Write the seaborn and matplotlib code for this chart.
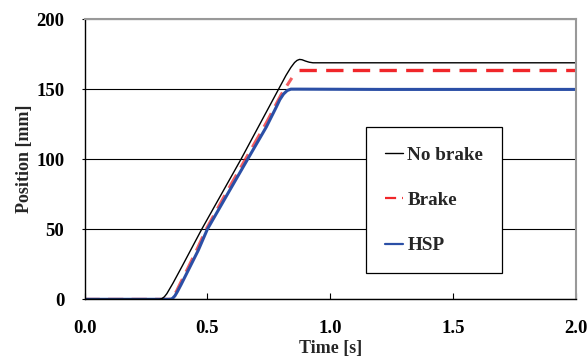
import numpy as np
import pandas as pd
import matplotlib
matplotlib.use("Agg")
import matplotlib.pyplot as plt
import seaborn as sns

# ---- data ----
nb_time = [0.0, 0.305, 0.315, 0.325, 0.335, 0.345, 0.36, 0.40, 0.477, 0.637, 0.79,
           0.82, 0.84, 0.855, 0.865, 0.875, 0.885, 0.90, 0.915, 0.93, 1.2, 1.5, 2.0]
nb_pos = [0.0, 0.0, 0.5, 1.8, 4.0, 7.0, 11.5, 24.5, 50.0, 100.0, 150.0,
          159.8, 165.5, 169.0, 170.5, 171.2, 171.0, 170.0, 169.2, 168.8, 168.8, 168.8, 168.8]

br_time_rise = [0.0, 0.345, 0.355, 0.365, 0.375, 0.39, 0.42, 0.46, 0.495, 0.58, 0.655,
                0.74, 0.80, 0.844]
br_pos_rise = [0.0, 0.0, 0.8, 3.0, 6.0, 11.5, 22.0, 36.5, 50.0, 77.0, 100.0,
               126.0, 146.0, 158.0]
br_time_hold = [0.875, 1.2, 1.5, 2.0]
br_pos_hold = [164.0, 164.0, 164.0, 164.0]

hsp_time = [0.0, 0.348, 0.358, 0.368, 0.378, 0.393, 0.423, 0.463, 0.50, 0.585, 0.664,
            0.74, 0.78, 0.795, 0.81, 0.825, 0.84, 0.87, 1.2, 1.5, 2.0]
hsp_pos = [0.0, 0.0, 0.6, 2.5, 5.5, 10.5, 21.0, 35.0, 50.0, 76.0, 100.0,
           123.0, 137.0, 142.5, 146.5, 149.0, 150.0, 150.0, 149.8, 149.8, 149.8]

labels = ["No brake", "Brake", "HSP"]
x_ticks = [0.0, 0.5, 1.0, 1.5, 2.0]
y_ticks = [0, 50, 100, 150, 200]

df_nb = pd.DataFrame({"Time": nb_time, "Position": nb_pos})
df_br1 = pd.DataFrame({"Time": br_time_rise, "Position": br_pos_rise})
df_br2 = pd.DataFrame({"Time": br_time_hold, "Position": br_pos_hold})
df_hsp = pd.DataFrame({"Time": hsp_time, "Position": hsp_pos})

sns.set_style("white")
plt.rcParams["font.family"] = ["Liberation Serif", "DejaVu Serif"]
plt.rcParams["font.weight"] = "bold"

fig = plt.figure(figsize=(5.87, 3.6), dpi=100)
ax = fig.add_axes([0.144, 0.1686, 0.837, 0.7784])

red = "#f0262a"
blue = "#2b4fa6"

sns.lineplot(data=df_br1, x="Time", y="Position", ax=ax, color=red, lw=2.2,
             label=labels[1], alpha=0.75, sort=False)
ax.lines[-1].set_dashes((5, 2.7))
sns.lineplot(data=df_br2, x="Time", y="Position", ax=ax, color=red, lw=2.4,
             label="_nolegend_", sort=False)
ax.lines[-1].set_dashes((5.2, 2.8))
sns.lineplot(data=df_hsp, x="Time", y="Position", ax=ax, color=blue, lw=2.2,
             label=labels[2], sort=False)
sns.lineplot(data=df_nb, x="Time", y="Position", ax=ax, color="black", lw=1.0,
             label=labels[0], sort=False)

ax.set_xlim(0, 2.0)
ax.set_ylim(0, 200)
ax.set_xticks(x_ticks)
ax.set_xticklabels([f"{v:.1f}" for v in x_ticks], fontweight="bold", fontsize=13.5)
ax.set_yticks(y_ticks)
ax.set_yticklabels([str(v) for v in y_ticks], fontweight="bold", fontsize=13.5)
ax.tick_params(axis="x", direction="in", length=4.5, width=0.8, pad=15,
               colors="black", bottom=True)
ax.tick_params(axis="y", direction="out", length=2.5, width=0.8, pad=12,
               colors="black", left=True)

ax.yaxis.grid(True, color="black", lw=0.8)
ax.xaxis.grid(False)
ax.set_axisbelow(True)

for s in ["left", "bottom"]:
    ax.spines[s].set_color("black")
    ax.spines[s].set_linewidth(1.0)
for s in ["top", "right"]:
    ax.spines[s].set_color("#999999")
    ax.spines[s].set_linewidth(1.5)

ax.set_xlabel("Time [s]", fontsize=13, fontweight="bold", labelpad=2)
ax.set_ylabel("Position [mm]", fontsize=13, fontweight="bold", labelpad=2)

handles, labs = ax.get_legend_handles_labels()
order = [labs.index(l) for l in labels]
leg = ax.legend([handles[i] for i in order], [labs[i] for i in order],
                loc="upper left", bbox_to_anchor=(0.573, 0.614),
                frameon=True, fancybox=False, edgecolor="black",
                prop={"family": "Liberation Serif", "weight": "bold", "size": 13.8},
                handlelength=0.95, handletextpad=0.2, labelspacing=1.45,
                borderpad=1.0, borderaxespad=0, framealpha=1)
leg.get_frame().set_linewidth(0.9)
for h in leg.legend_handles:
    h.set_linewidth(1.6 if h.get_color() != "black" else 1.0)
    h.set_alpha(1)

fig.savefig("out.png", dpi=100)
